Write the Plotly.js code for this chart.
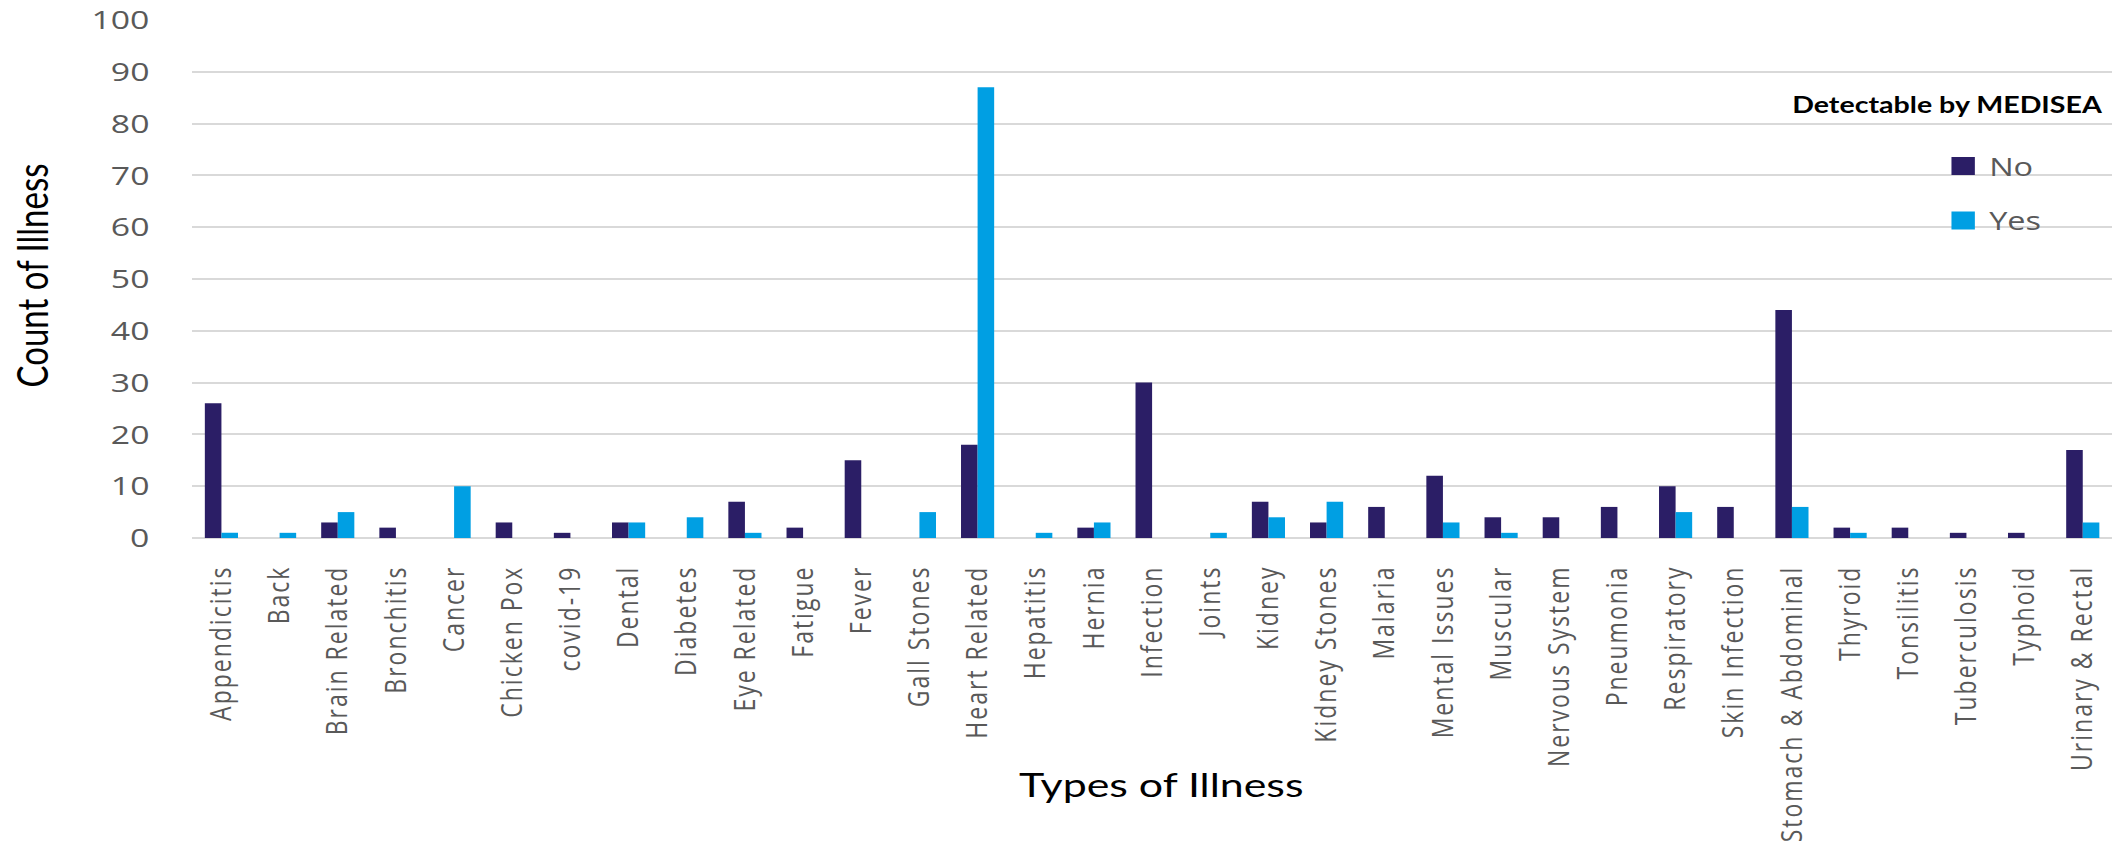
<!DOCTYPE html>
<html>
<head>
<meta charset="utf-8">
<script src="https://cdn.plot.ly/plotly-3.0.1.min.js"></script>
<style>
  html, body { margin: 0; padding: 0; background: #ffffff; overflow: hidden; width: 2121px; height: 850px; }
  /* the chart is laid out narrower and widened horizontally, giving the broad lettering of the figure */
  #chart { width: 1632px; height: 850px; transform: scaleX(1.2996); transform-origin: 0 0; }
  /* airy spacing for the rotated category labels */
  #chart .xtick text { letter-spacing: 2px; }
</style>
</head>
<body>
<div id="chart"></div>
<script>
// Illness categories on the x axis
const illnessTypes = [
  "Appendicitis", "Back", "Brain Related", "Bronchitis", "Cancer", "Chicken Pox",
  "covid-19", "Dental", "Diabetes", "Eye Related", "Fatigue", "Fever",
  "Gall Stones", "Heart Related", "Hepatitis", "Hernia", "Infection", "Joints",
  "Kidney", "Kidney Stones", "Malaria", "Mental Issues", "Muscular", "Nervous System",
  "Pneumonia", "Respiratory", "Skin Infection", "Stomach & Abdominal", "Thyroid",
  "Tonsilitis", "Tuberculosis", "Typhoid", "Urinary & Rectal"
];

// Counts not detectable by MEDISEA
const countNo = [
  26, 0, 3, 2, 0, 3,
  1, 3, 0, 7, 2, 15,
  0, 18, 0, 2, 30, 0,
  7, 3, 6, 12, 4, 4,
  6, 10, 6, 44, 2,
  2, 1, 1, 17
];

// Counts detectable by MEDISEA
const countYes = [
  1, 1, 5, 0, 10, 0,
  0, 3, 4, 1, 0, 0,
  5, 87, 1, 3, 0, 1,
  4, 7, 0, 3, 1, 0,
  0, 5, 0, 6, 1,
  0, 0, 0, 3
];

const seriesNames = ["No", "Yes"];
const seriesColors = ["#2B1E66", "#009FE3"];
const yTicks = [0, 10, 20, 30, 40, 50, 60, 70, 80, 90, 100];

const xTitle = "Types of Illness";
const yTitle = "Count of Illness";
const legendHeading = "Detectable by MEDISEA";

const tickFont = { family: "Open Sans, sans-serif", color: "#595959" };

const traces = [
  {
    type: "bar", name: seriesNames[0], x: illnessTypes, y: countNo,
    marker: { color: seriesColors[0] }, showlegend: false, legendgroup: "no"
  },
  {
    type: "bar", name: seriesNames[1], x: illnessTypes, y: countYes,
    marker: { color: seriesColors[1] }, showlegend: false, legendgroup: "yes"
  },
  // legend keys with larger square swatches
  {
    type: "scatter", mode: "markers", name: seriesNames[0], x: [null], y: [null],
    marker: { symbol: "square", size: 16, color: seriesColors[0], line: { color: seriesColors[0], width: 2 } },
    legendgroup: "no", hoverinfo: "skip"
  },
  {
    type: "scatter", mode: "markers", name: seriesNames[1], x: [null], y: [null],
    marker: { symbol: "square", size: 16, color: seriesColors[1], line: { color: seriesColors[1], width: 2 } },
    legendgroup: "yes", hoverinfo: "skip"
  }
];

const layout = {
  width: 1632,
  height: 850,
  margin: { l: 148, r: 7, t: 20, b: 312, pad: 0 },
  paper_bgcolor: "#ffffff",
  plot_bgcolor: "#ffffff",
  barmode: "group",
  bargap: 0.43,
  bargroupgap: 0,
  showlegend: true,
  legend: {
    x: 0.909, xanchor: "left",
    y: 0.762, yanchor: "top",
    bgcolor: "rgba(0,0,0,0)",
    borderwidth: 0,
    font: { family: "Open Sans, sans-serif", size: 25, color: "#595959" },
    tracegroupgap: 19,
    itemsizing: "trace",
    traceorder: "grouped"
  },
  xaxis: {
    type: "category",
    categoryorder: "array",
    categoryarray: illnessTypes,
    tickangle: -90,
    tickfont: Object.assign({ size: 23 }, tickFont),
    ticks: "",
    showgrid: false,
    showline: false,
    zeroline: false,
    ticklabelstandoff: 22,
    automargin: false,
    fixedrange: true
  },
  yaxis: {
    range: [0, 100],
    tickvals: yTicks,
    ticktext: yTicks.map(String),
    tickfont: Object.assign({ size: 26 }, tickFont),
    ticks: "",
    showgrid: true,
    gridcolor: "#D9D9D9",
    gridwidth: 2,
    zeroline: true,
    zerolinecolor: "#D9D9D9",
    zerolinewidth: 2,
    showline: false,
    ticklabelstandoff: 32,
    automargin: false,
    fixedrange: true
  },
  annotations: [
    {
      text: yTitle, xref: "paper", yref: "paper",
      x: -0.0837, y: 0.5075, xanchor: "center", yanchor: "middle",
      textangle: -90, showarrow: false,
      font: { family: "Lato, sans-serif", size: 33, color: "#000000" }
    },
    {
      text: xTitle, xref: "paper", yref: "paper",
      x: 0.505, y: -0.474, xanchor: "center", yanchor: "middle",
      showarrow: false,
      font: { family: "Lato, sans-serif", size: 33, color: "#000000" }
    },
    {
      text: "<b>" + legendHeading + "</b>", xref: "paper", yref: "paper",
      x: 0.9964, y: 0.8377, xanchor: "right", yanchor: "middle",
      showarrow: false,
      font: { family: "Lato, sans-serif", size: 22, color: "#000000" }
    }
  ]
};

Plotly.newPlot("chart", traces, layout, { displayModeBar: false, staticPlot: true });
</script>
</body>
</html>
